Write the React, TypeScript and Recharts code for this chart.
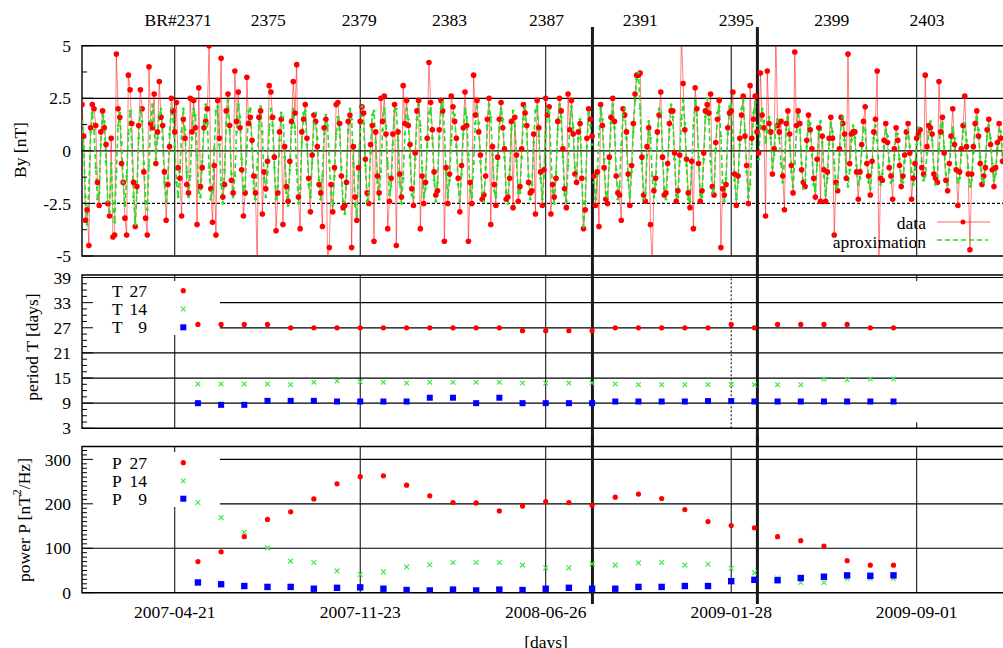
import React from 'react'
import {
  ComposedChart,
  ScatterChart,
  Line,
  Scatter,
  XAxis,
  YAxis,
  ReferenceLine,
  ReferenceArea,
} from 'recharts'

const FONT = '"Liberation Serif", "Times New Roman", serif'
const FS = 17.5

// x axis is in days, day 0 = 2007-04-21
const X_MIN = -108
const X_MAX = 968
const CHART_W = 1010
const AXIS_W = 82
const PLOT_R = CHART_W - 4

const dateTicks = [0, 216, 432, 648, 864]
const dateLabels = ['2007-04-21', '2007-11-23', '2008-06-26', '2009-01-28', '2009-09-01']
const brTicks = [4, 109, 215, 320, 433, 542, 654, 765, 876]
const brLabels = ['BR#2371', '2375', '2379', '2383', '2387', '2391', '2395', '2399', '2403']
const markerDays = [486.4, 678.5]

// daily By, sampled every 2 days from day -108
const BY_START = -108
const BY_STEP = 2
const byData = [
  2.2, 0.7, -3.3, -2.8, -4.5, 1.1, 2.2, 2.0, 1.2,
  -1.5, -2.6, 0.9, 1.9, 1.1, 0.3, -2.5, -3.1, 0.6,
  -4.1, -4.0, 4.6, 2.0, 1.6, -0.6, -1.5, -3.2, -4.0,
  3.6, 2.9, 1.3, -1.5, -3.6, -1.7, 1.2, 2.9, 2.0,
  -1.0, -3.2, -4.0, 4.0, 1.3, 1.1, 2.7, -0.6, 0.9,
  3.3, 1.6, 1.2, -1.0, -3.3, -1.6, 0.2, 2.5, 1.9,
  0.9, 2.3, -0.8, -1.3, -3.1, 1.5, 0.6, -1.6, -2.0,
  2.5, 0.9, 2.4, 1.1, -3.5, 3.0, -1.7, -0.8, 1.1,
  1.4, 2.0, 5.0, -1.8, -3.4, -0.7, -4.0, 2.4, 0.6,
  4.4, -2.2, -1.6, 1.9, 2.7, 1.2, -1.4, -2.0, 3.8,
  1.4, 2.8, 1.1, -0.9, -3.1, -2.0, 3.5, 1.3, 1.6,
  0.5, -1.2, -2.0, -5.3, 1.6, 1.9, -3.0, -1.0, -1.8,
  -0.5, 3.1, 2.8, 1.6, -0.3, -3.8, -2.0, 0.9, 1.5,
  -3.5, 0.2, -1.7, -2.4, -0.5, 1.4, 3.3, 1.8, 4.1,
  -2.2, -3.7, 0.9, 1.5, 2.2, 0.6, -1.3, -2.9, -0.2,
  1.7, 1.4, 0.2, -1.6, -2.0, -3.6, 1.1, 1.5, -5.2,
  -4.6, -1.6, -2.9, -0.8, 2.2, 2.3, 1.3, -1.2, -2.7,
  -2.6, -1.5, 1.4, 1.7, -4.6, 0.2, -2.2, -3.3, -0.8,
  1.4, 2.1, 1.8, -0.4, -2.0, -2.5, 0.3, 1.2, -4.3,
  0.9, -1.2, -2.0, 2.5, 1.4, 2.6, 0.8, -3.7, -2.4,
  -1.3, 0.8, 2.2, -4.5, 0.9, -1.1, -2.2, 3.1, 1.3,
  2.4, 1.2, 0.3, -1.8, -2.6, -0.1, 1.9, 2.4, -3.7,
  -1.2, -2.5, -1.5, 0.6, 4.2, 2.3, 1.0, -1.0, -2.1,
  -1.9, 1.0, 2.4, 1.9, -4.3, -0.8, -2.5, -1.1, 2.6,
  2.1, 1.4, 0.6, -1.3, -2.9, -0.7, 1.1, 2.8, 1.2,
  -4.3, -1.5, -2.5, 3.6, 1.7, 2.4, 0.9, -0.2, -2.3,
  -2.1, -1.2, 1.5, 2.5, -3.5, 0.2, -1.6, -2.6, -0.3,
  1.5, 2.3, 1.1, 0.1, -2.3, -2.2, -1.3, 1.4, -2.7,
  1.6, -0.2, -2.4, -1.7, 0.1, 2.2, 1.8, 1.2, -1.5,
  -2.0, -1.9, 0.8, -3.0, 2.4, 1.1, -1.0, -2.6, -0.9,
  2.5, 1.7, 2.1, -3.0, -1.6, -2.2, -1.3, 1.4, 2.5,
  1.9, 0.1, -1.8, -2.7, 2.7, 1.0, 2.4, 0.8, -1.1,
  -1.5, 0.9, 1.3, -1.3, -3.7, -2.8, 0.6, 2.0, 1.5,
  0.7, -1.2, -2.6, -1.0, -3.6, 2.2, 1.2, -0.8, -2.3,
  -2.5, -0.3, 1.6, 2.5, 1.4, -1.2, -2.0, -2.1, -3.3,
  2.0, 1.7, 0.9, -1.1, -2.6, -0.7, 1.3, 2.7, 3.6,
  3.6, 3.7, -0.3, -2.1, -2.4, 0.2, 1.1, -3.5, -5.4,
  -1.9, -1.3, 0.9, 1.7, 2.8, -0.3, -2.1, -2.0, -0.6,
  1.3, 1.9, 1.9, -0.1, -2.4, -1.9, -0.2, 5.6, 3.2,
  1.0, -0.4, -2.0, -2.7, -0.5, -3.7, 3.0, 2.0, -0.6,
  -2.4, -1.9, -0.1, 1.9, 2.2, 1.8, 2.7, -1.7, -2.1,
  0.4, 1.5, 2.4, -4.6, -1.8, -2.1, -1.6, 1.1, 1.8,
  1.9, 2.8, -1.1, -2.6, -1.2, 0.6, 1.7, 2.6, 0.7,
  -0.7, -2.5, 3.1, 0.6, 1.5, 2.6, 0.9, -0.1, 3.7,
  1.7, 1.1, -3.1, 3.8, 1.3, 0.9, -1.1, 0.1, 5.6,
  1.2, 0.9, 1.4, -1.2, -2.8, 1.3, 1.9, 0.8, -0.7,
  -2.0, 4.7, 1.2, 1.9, 1.3, -0.9, -1.5, -1.7, 0.5,
  1.7, 1.0, 0.1, -1.3, -2.2, -0.4, 1.1, -2.4, 0.7,
  -0.9, -2.4, -1.0, 0.6, 1.6, 0.6, -4.0, -1.5, -1.9,
  0.1, 1.6, 1.3, 0.8, -1.3, 4.6, -0.6, 0.8, 0.9,
  0.9, -1.0, -2.3, -1.0, 0.3, 1.4, 2.1, -0.6, -1.2,
  -2.1, -0.5, 0.9, 1.5, 3.8, -5.3, -1.3, -1.4, 0.5,
  1.3, 0.4, -0.8, -1.2, -2.3, 0.1, 1.1, 0.5, -0.7,
  -1.7, -1.2, -0.2, 0.9, 1.3, -0.1, -2.3, -1.3, -0.6,
  0.6, 0.8, 1.0, -0.8, -1.1, 3.6, 0.2, 1.2, 1.1,
  0.8, -1.1, -1.3, -1.5, 3.3, 0.9, 1.6, -0.1, -1.4,
  -1.9, -0.6, 0.7, 2.0, 0.3, -0.9, -2.6, -1.0, 0.1,
  1.2, 2.6, 0.2, -1.1, -4.7, -1.1, 0.2, 1.3, 1.9,
  0.7, -0.6, -1.6, -1.2, -0.8, 1.0, 1.5, 0.3, -0.9,
  -1.7, -0.8, 0.4, 1.3, 0.6, -0.5,
]

const byFit = [
  1.4, 0.2, -2.2, -3.5, -1.8, 0.9, 1.8, 1.0, -0.8,
  -2.3, -2.0, 0.3, 1.7, 1.4, -0.5, -2.4, -2.9, -0.6,
  -2.5, -3.4, -1.0, 1.2, 1.8, 0.4, -1.5, -2.6, -1.2,
  0.8, 1.9, 0.3, -2.2, -3.5, -2.0, 0.6, 2.0, 1.4,
  -0.6, -2.4, -2.8, -0.7, 1.4, 2.2, 1.2, -0.4, 0.6,
  1.7, 2.0, 0.6, -1.5, -2.4, -1.3, 0.8, 2.0, 1.5,
  0.2, -1.5, -2.2, -1.0, 0.9, 2.0, 1.0, -1.0, -2.2,
  -1.2, 0.6, 2.0, 1.7, -0.2, -2.0, -2.2, -0.5, 1.3,
  2.2, 1.3, -0.8, -2.3, -1.9, 0.1, 1.9, 2.1, 0.3,
  -1.6, -2.5, -0.9, 1.3, 2.4, 1.0, -1.1, -2.2, -1.2,
  0.9, 2.2, 1.6, -0.4, -1.9, -1.7, 0.2, 1.9, 2.0,
  0.1, -1.8, -2.3, -0.8, 1.2, 2.1, 0.9, -1.3, -2.2,
  -1.0, 1.0, 2.0, 1.2, -0.8, -2.3, -1.7, 0.5, 1.8,
  1.6, -0.3, -2.0, -2.6, -0.9, 1.1, 2.0, 1.1, -0.9,
  -2.5, -1.8, 0.4, 1.8, 1.9, 0.3, -1.6, -2.2, -0.6,
  1.3, 1.8, 0.6, -1.4, -2.3, -1.2, 0.8, 1.7, 1.2,
  -0.5, -2.0, -2.6, -1.2, 0.8, 1.6, 1.0, -0.8, -2.4,
  -3.0, -1.2, 1.0, 2.0, 1.5, -0.6, -2.6, -3.1, -1.2,
  1.0, 2.1, 1.3, -0.7, -2.4, -2.0, -0.1, 1.7, 1.9,
  0.4, -1.5, -2.3, -1.0, 1.0, 2.0, 1.2, -0.6, -2.1,
  -1.7, 0.3, 1.9, 2.0, 0.5, -1.5, -2.5, -1.3, 0.8,
  2.0, 1.5, -0.3, -2.1, -2.2, -0.4, 1.5, 2.2, 1.2,
  -0.8, -2.2, -1.8, 0.2, 1.8, 2.0, 0.6, -1.4, -2.4,
  -1.5, 0.6, 2.0, 2.3, 0.9, -1.1, -2.2, -1.4, 0.5,
  1.8, 1.7, 0.2, -1.6, -2.4, -1.1, 0.8, 2.0, 1.6,
  -0.2, -1.9, -2.2, -0.6, 1.3, 2.1, 1.3, -0.5, -2.0,
  -2.4, -0.8, 1.2, 2.2, 1.6, -0.2, -1.9, -2.2, -0.7,
  1.1, 2.0, 1.5, -0.3, -2.0, -2.5, -0.9, 1.0, 1.9,
  1.2, -0.5, -2.0, -2.0, -0.3, 1.5, 2.1, 0.8, -1.2,
  -2.3, -1.6, 0.4, 1.9, 2.1, 0.7, -1.3, -2.3, -1.2,
  0.7, 2.0, 1.8, 0.0, -1.9, -2.5, -1.0, 1.0, 2.2,
  1.6, -0.3, -2.1, -2.4, -0.7, 1.3, 2.1, 1.1, -0.8,
  -1.2, 0.6, 1.5, -1.0, -3.6, -2.4, 0.2, 1.8, 1.2,
  0.3, -1.5, -2.3, -1.2, 0.8, 2.0, 1.5, -0.4, -2.0,
  -2.2, -0.6, 1.3, 2.2, 1.1, -0.9, -2.3, -1.7, 0.3,
  1.7, 2.0, 0.6, -1.4, -2.2, -1.0, 0.9, 2.4, 3.4,
  3.7, 2.0, -0.6, -2.3, -2.0, -0.2, 1.4, 0.6, -1.2,
  -2.2, -1.6, 0.5, 2.0, 1.8, 0.0, -1.8, -2.3, -0.9,
  1.0, 2.2, 1.6, -0.4, -2.1, -2.2, -0.5, 1.5, 2.4,
  1.3, -0.7, -2.3, -2.4, -0.8, 1.2, 2.4, 1.7, -0.3,
  -2.1, -2.2, -0.4, 1.6, 2.5, 1.5, -0.5, -2.0, -1.8,
  0.1, 1.8, 2.1, 0.7, -1.5, -2.4, -1.3, 0.8, 2.1,
  2.2, 0.6, -1.4, -2.3, -1.5, 0.3, 2.0, 2.4, 1.0,
  -1.0, -2.2, -1.6, 0.3, 1.8, 2.3, 1.2, -0.4, 1.2,
  2.0, 1.4, 0.4, 0.9, 1.6, 0.6, -0.8, -0.2, 1.2,
  1.5, 0.6, -0.6, -1.5, -0.4, 1.0, 1.6, 0.5, -1.0,
  -1.7, -0.6, 0.9, 1.7, 1.0, -0.6, -1.8, -1.4, 0.2,
  1.4, 1.3, -0.2, -1.6, -1.9, -0.7, 0.8, 1.4, 0.4,
  -1.2, -2.1, -1.3, 0.3, 1.3, 0.9, -0.6, -1.8, -1.6,
  -0.2, 1.3, 1.6, 0.5, -1.0, -1.7, -0.9, 0.5, 1.2,
  0.6, -0.7, -1.6, -1.3, 0.0, 1.1, 1.0, -0.3, -1.5,
  -1.8, -0.8, 0.6, 1.2, 0.5, -0.8, -1.6, -1.1, 0.2,
  1.0, 0.7, -0.5, -1.5, -1.4, -0.2, 0.8, 0.8, -0.4,
  -1.4, -1.5, -0.5, 0.6, 1.0, 0.2, -1.0, -1.6, -0.9,
  0.3, 1.1, 0.7, -0.5, -1.4, -1.2, -0.1, 0.9, 1.4,
  0.5, -0.8, -1.6, -1.2, 0.1, 1.2, 1.3, 0.2, -1.1,
  -1.6, -0.9, 0.4, 1.1, 0.6, -0.6, -1.5, -1.3, -0.2,
  0.9, 1.3, 0.5, -0.8, -1.7, -1.4, -0.1, 1.0, 1.6,
  1.0, -0.3, -1.3, -1.5, -0.5, 0.7, 1.2, 0.6, -0.6,
  -1.4, -1.1, 0.1, 1.0, 0.9, -0.2,
]

// one value per Bartels rotation
const rotationDays = [27, 54, 81, 108, 135, 162, 189, 216, 243, 270, 297, 324, 351, 378, 405, 432,
  459, 486, 513, 540, 567, 594, 621, 648, 675, 702, 729, 756, 783, 810, 837]

const t27 = [27.8, 27.8, 27.8, 27.8, 27.0, 27.0, 27.0, 27.0, 27.0, 27.0, 27.0, 27.0, 27.0, 27.0,
  26.3, 26.3, 26.3, 26.3, 27.0, 27.0, 27.0, 27.0, 27.0, 27.8, 27.0, 27.8, 27.8, 27.8, 27.8, 27.0, 27.0]
const t14 = [13.6, 13.6, 13.6, 13.6, 13.4, 14.0, 14.3, 14.1, 14.0, 13.8, 14.0, 14.0, 14.0, 14.0,
  13.8, 13.8, 13.8, 13.8, 13.6, 13.4, 13.4, 13.4, 13.4, 13.5, 13.4, 13.4, 13.4, 14.75, 14.6, 14.75, 14.75]
const t9 = [9.0, 8.6, 8.6, 9.55, 9.55, 9.55, 9.4, 9.4, 9.4, 9.4, 10.3, 10.3, 9.0, 10.3,
  9.0, 9.0, 9.0, 9.0, 9.4, 9.4, 9.4, 9.4, 9.5, 9.5, 9.4, 9.4, 9.4, 9.4, 9.4, 9.4, 9.4]

const p27 = [70, 92, 126, 165, 182, 211, 245, 261, 263, 242, 218, 203, 202, 184, 195, 205,
  203, 197, 215, 222, 212, 187, 160, 151, 146, 126, 117, 105, 72, 62, 62]
const p14 = [203, 169, 136, 101, 71, 68, 49, 41, 47, 58, 63, 68, 68, 68, 62, 56,
  56, 65, 62, 67, 68, 62, 64, 55, 45, 33, 23, 23, 32, 32, 32]
const p9 = [23, 19, 15, 13, 13, 9, 11, 12, 9, 6, 5, 7, 5, 7, 6, 9,
  11, 9, 9, 13, 13, 15, 15, 26, 29, 28, 33, 36, 39, 38, 39]

const keyNumbers = ['27', '14', '9']

// panel geometry (page pixels)
type Panel = { lo: number; hi: number; top: number; bottom: number; pageTop: number; height: number }
const TOP: Panel = { lo: -5, hi: 5, top: 45.7, bottom: 256, pageTop: 0, height: 266 }
const MID: Panel = { lo: 3, hi: 39.6, top: 275, bottom: 428.3, pageTop: 266, height: 176 }
const BOT: Panel = { lo: 0, hi: 329, top: 446.5, bottom: 592.7, pageTop: 436, height: 212 }

const yAt = (p: Panel, py: number) => p.lo + ((p.bottom - py) * (p.hi - p.lo)) / (p.bottom - p.top)
const xAt = (px: number) => X_MIN + ((px - AXIS_W) * (X_MAX - X_MIN)) / (PLOT_R - AXIS_W)
const KEY_RIGHT = xAt(220)

const RED = '#ff0000'
const GREEN = '#22e022'
const BLUE = '#0000ff'

const byTicks = [5, 3.75, 2.5, 1.25, 0, -1.25, -2.5, -3.75, -5]
const byMajor = [5, 2.5, 0, -2.5, -5]
const tTicks = Array.from({ length: 25 }, (_, i) => 3 + i * 1.5)
const tMajor = [3, 9, 15, 21, 27, 33, 39]
const pTicks = Array.from({ length: 33 }, (_, i) => i * 10)
const pMajor = [0, 100, 200, 300]

const yTick = (majors: number[]) => (props: any) => {
  const { x, y, payload } = props
  const major = majors.includes(payload.value)
  return (
    <g>
      <line x1={x} x2={x + (major ? 11 : 5)} y1={y} y2={y} stroke="#000" strokeWidth={1} />
      {major && (
        <text x={x - 11} y={y} dy="0.35em" textAnchor="end" fontSize={FS} fontFamily={FONT} fill="#000">
          {String(payload.value)}
        </text>
      )}
    </g>
  )
}

const BrTick = (props: any) => {
  const { x, y, payload } = props
  return (
    <text x={x} y={y - 20} textAnchor="middle" fontSize={FS} fontFamily={FONT} fill="#000">
      {brLabels[brTicks.indexOf(payload.value)]}
    </text>
  )
}

const DateTick = (props: any) => {
  const { x, y, payload } = props
  return (
    <text x={x} y={y + 25} textAnchor="middle" fontSize={FS} fontFamily={FONT} fill="#000">
      {dateLabels[dateTicks.indexOf(payload.value)]}
    </text>
  )
}

const thickLines = (p: Panel, fromPy: number, toPy: number) =>
  markerDays.map((d) => (
    <ReferenceLine
      key={'m' + d}
      segment={[{ x: d, y: yAt(p, fromPy) }, { x: d, y: yAt(p, toPy) }]}
      stroke="#1a1a1a"
      strokeWidth={3}
      ifOverflow="visible"
    />
  ))

const frame = (p: Panel) => (
  <ReferenceArea x1={X_MIN} x2={X_MAX} y1={p.lo} y2={p.hi} fill="none" stroke="#000" strokeWidth={1.4} fillOpacity={0} />
)

const circleShape = (r: number) => (props: any) => <circle cx={props.cx} cy={props.cy} r={r} fill={RED} />
const crossShape = (s: number) => (props: any) => {
  const { cx, cy } = props
  return (
    <path
      d={`M${cx - s},${cy - s}L${cx + s},${cy + s}M${cx - s},${cy + s}L${cx + s},${cy - s}`}
      stroke="#44e844"
      strokeWidth={1.2}
      fill="none"
    />
  )
}
const squareShape = (s: number) => (props: any) => (
  <rect x={props.cx - s / 2} y={props.cy - s / 2} width={s} height={s} fill={BLUE} />
)

const pts = (vals: number[]) => rotationDays.map((d, i) => ({ x: d, y: vals[i] }))

function ByPanel() {
  const rows = byData.map((v, i) => ({ day: BY_START + i * BY_STEP, by: v, fit: byFit[i] }))
  return (
    <ComposedChart
      width={CHART_W}
      height={TOP.height}
      data={rows}
      margin={{ top: 0, right: CHART_W - PLOT_R, bottom: TOP.height - TOP.bottom, left: 0 }}
    >
      <XAxis dataKey="day" type="number" domain={[X_MIN, X_MAX]} allowDataOverflow hide />
      <XAxis
        xAxisId="br"
        dataKey="day"
        orientation="top"
        type="number"
        domain={[X_MIN, X_MAX]}
        allowDataOverflow
        ticks={brTicks}
        interval={0}
        height={TOP.top}
        axisLine={false}
        tickLine={false}
        tickSize={0}
        tickMargin={0}
        tick={BrTick}
      />
      <YAxis
        type="number"
        domain={[TOP.lo, TOP.hi]}
        allowDataOverflow
        ticks={byTicks}
        interval={0}
        width={AXIS_W}
        axisLine={false}
        tickLine={false}
        tickSize={0}
        tickMargin={0}
        tick={yTick(byMajor)}
      />
      {dateTicks.map((d) => (
        <ReferenceLine key={'v' + d} x={d} stroke="#000" strokeWidth={1} />
      ))}
      <ReferenceLine y={2.5} stroke="#000" strokeWidth={1.3} />
      <ReferenceLine y={0} stroke="#000" strokeWidth={1.3} />
      <ReferenceLine y={-2.5} stroke="#000" strokeWidth={1.2} strokeDasharray="3 2" />
      <Line
        dataKey="by"
        type="linear"
        stroke={RED}
        strokeOpacity={0.5}
        strokeWidth={1}
        dot={{ r: 2.8, fill: RED, stroke: 'none' }}
        activeDot={false}
        isAnimationActive={false}
      />
      <Line
        dataKey="fit"
        type="linear"
        stroke={GREEN}
        strokeWidth={1.6}
        strokeDasharray="5 3"
        dot={{ r: 1.4, fill: GREEN, stroke: 'none' }}
        activeDot={false}
        isAnimationActive={false}
      />
      {frame(TOP)}
      {thickLines(TOP, 27, TOP.height)}
    </ComposedChart>
  )
}

function PeriodPanel() {
  return (
    <ScatterChart
      width={CHART_W}
      height={MID.height}
      margin={{ top: MID.top - MID.pageTop, right: CHART_W - PLOT_R, bottom: MID.pageTop + MID.height - MID.bottom, left: 0 }}
    >
      <XAxis dataKey="x" type="number" domain={[X_MIN, X_MAX]} allowDataOverflow hide />
      <YAxis
        dataKey="y"
        type="number"
        domain={[MID.lo, MID.hi]}
        allowDataOverflow
        ticks={tTicks}
        interval={0}
        width={AXIS_W}
        axisLine={false}
        tickLine={false}
        tickSize={0}
        tickMargin={0}
        tick={yTick(tMajor)}
      />
      <ReferenceLine y={39} stroke="#000" strokeWidth={1.2} />
      <ReferenceLine segment={[{ x: KEY_RIGHT, y: 33 }, { x: X_MAX, y: 33 }]} stroke="#000" strokeWidth={1.2} />
      <ReferenceLine segment={[{ x: KEY_RIGHT, y: 27 }, { x: X_MAX, y: 27 }]} stroke="#000" strokeWidth={1.2} />
      <ReferenceLine y={21} stroke="#000" strokeWidth={1.2} />
      <ReferenceLine y={15} stroke="#000" strokeWidth={1.2} />
      <ReferenceLine y={9} stroke="#000" strokeWidth={1.2} />
      <ReferenceLine segment={[{ x: 0, y: MID.lo }, { x: 0, y: yAt(MID, 335) }]} stroke="#000" />
      <ReferenceLine segment={[{ x: 0, y: yAt(MID, 281) }, { x: 0, y: MID.hi }]} stroke="#000" />
      <ReferenceLine x={216} stroke="#000" />
      <ReferenceLine x={432} stroke="#000" />
      <ReferenceLine x={648} stroke="#000" strokeDasharray="2 2" />
      <ReferenceLine segment={[{ x: 864, y: MID.lo }, { x: 864, y: yAt(MID, MID.bottom - 6) }]} stroke="#000" />
      <ReferenceLine segment={[{ x: 864, y: yAt(MID, MID.top + 6) }, { x: 864, y: MID.hi }]} stroke="#000" />
      <Scatter data={pts(t27)} shape={circleShape(2.6)} isAnimationActive={false} />
      <Scatter data={pts(t14)} shape={crossShape(2.3)} isAnimationActive={false} />
      <Scatter data={pts(t9)} shape={squareShape(6)} isAnimationActive={false} />
      {frame(MID)}
      {thickLines(MID, MID.pageTop, MID.pageTop + MID.height)}
    </ScatterChart>
  )
}

function PowerPanel() {
  return (
    <ScatterChart
      width={CHART_W}
      height={BOT.height}
      margin={{ top: BOT.top - BOT.pageTop, right: CHART_W - PLOT_R, bottom: 0, left: 0 }}
    >
      <XAxis
        dataKey="x"
        type="number"
        domain={[X_MIN, X_MAX]}
        allowDataOverflow
        ticks={dateTicks}
        interval={0}
        height={BOT.pageTop + BOT.height - BOT.bottom}
        axisLine={false}
        tickLine={false}
        tickSize={0}
        tickMargin={0}
        tick={DateTick}
      />
      <YAxis
        dataKey="y"
        type="number"
        domain={[BOT.lo, BOT.hi]}
        allowDataOverflow
        ticks={pTicks}
        interval={0}
        width={AXIS_W}
        axisLine={false}
        tickLine={false}
        tickSize={0}
        tickMargin={0}
        tick={yTick(pMajor)}
      />
      <ReferenceLine segment={[{ x: KEY_RIGHT, y: 300 }, { x: X_MAX, y: 300 }]} stroke="#000" strokeWidth={1.2} />
      <ReferenceLine segment={[{ x: KEY_RIGHT, y: 200 }, { x: X_MAX, y: 200 }]} stroke="#000" strokeWidth={1.2} />
      <ReferenceLine y={100} stroke="#000" strokeWidth={1.2} />
      <ReferenceLine segment={[{ x: 0, y: BOT.lo }, { x: 0, y: yAt(BOT, 507) }]} stroke="#000" />
      <ReferenceLine segment={[{ x: 0, y: yAt(BOT, 452) }, { x: 0, y: BOT.hi }]} stroke="#000" />
      <ReferenceLine x={216} stroke="#000" />
      <ReferenceLine x={432} stroke="#000" />
      <ReferenceLine x={648} stroke="#000" />
      <ReferenceLine x={864} stroke="#000" />
      <Scatter data={pts(p27)} shape={circleShape(2.6)} isAnimationActive={false} />
      <Scatter data={pts(p14)} shape={crossShape(2.4)} isAnimationActive={false} />
      <Scatter data={pts(p9)} shape={squareShape(6.4)} isAnimationActive={false} />
      {frame(BOT)}
      {thickLines(BOT, BOT.pageTop, 604)}
    </ScatterChart>
  )
}

function Overlay() {
  const keyX = 183.3
  const midRows = [290.7, 309, 327.3]
  const botRows = [462.7, 481, 498.7]
  const marker = (i: number, cy: number) =>
    i === 0 ? (
      <circle cx={keyX} cy={cy} r={2.6} fill={RED} />
    ) : i === 1 ? (
      <path d={`M${keyX - 2.3},${cy - 2.3}L${keyX + 2.3},${cy + 2.3}M${keyX - 2.3},${cy + 2.3}L${keyX + 2.3},${cy - 2.3}`} stroke="#44e844" strokeWidth={1.2} />
    ) : (
      <rect x={keyX - 3} y={cy - 3} width={6} height={6} fill={BLUE} />
    )
  return (
    <svg
      width={1003}
      height={648}
      style={{ position: 'absolute', left: 0, top: 0, pointerEvents: 'none' }}
      fontFamily={FONT}
      fontSize={FS}
    >
      <text transform="rotate(-90 20 150)" x={20} y={150} textAnchor="middle" dominantBaseline="central">
        By [nT]
      </text>
      <text transform="rotate(-90 32 347)" x={32} y={347} textAnchor="middle" dominantBaseline="central">
        period T [days]
      </text>
      <text transform="rotate(-90 24 520)" x={24} y={520} textAnchor="middle" dominantBaseline="central">
        power P [nT<tspan dy={-7} fontSize={12}>2</tspan>
        <tspan dy={7}>/Hz]</tspan>
      </text>
      <text x={546} y={648} textAnchor="middle">[days]</text>

      <text x={926} y={229} textAnchor="end">data</text>
      <line x1={937} x2={990} y1={222} y2={222} stroke={RED} strokeOpacity={0.6} />
      <circle cx={963} cy={222} r={2.5} fill={RED} />
      <text x={926} y={247.5} textAnchor="end">aproximation</text>
      <line x1={937} x2={988} y1={240} y2={240} stroke={GREEN} strokeWidth={1.6} strokeDasharray="5 3" />

      {midRows.map((cy, i) => (
        <g key={'t' + i}>
          <text x={112} y={cy} dy="0.35em">T</text>
          <text x={147} y={cy} dy="0.35em" textAnchor="end">{keyNumbers[i]}</text>
          {marker(i, cy)}
        </g>
      ))}
      {botRows.map((cy, i) => (
        <g key={'p' + i}>
          <text x={112} y={cy} dy="0.35em">P</text>
          <text x={147} y={cy} dy="0.35em" textAnchor="end">{keyNumbers[i]}</text>
          {marker(i, cy)}
        </g>
      ))}
    </svg>
  )
}

export default function App() {
  return (
    <div
      style={{
        position: 'absolute',
        left: 0,
        top: 0,
        width: 1003,
        height: 648,
        overflow: 'hidden',
        background: '#fff',
        fontFamily: FONT,
      }}
    >
      <div style={{ position: 'absolute', left: 0, top: TOP.pageTop }}>
        <ByPanel />
      </div>
      <div style={{ position: 'absolute', left: 0, top: MID.pageTop }}>
        <PeriodPanel />
      </div>
      <div style={{ position: 'absolute', left: 0, top: BOT.pageTop }}>
        <PowerPanel />
      </div>
      <Overlay />
    </div>
  )
}
